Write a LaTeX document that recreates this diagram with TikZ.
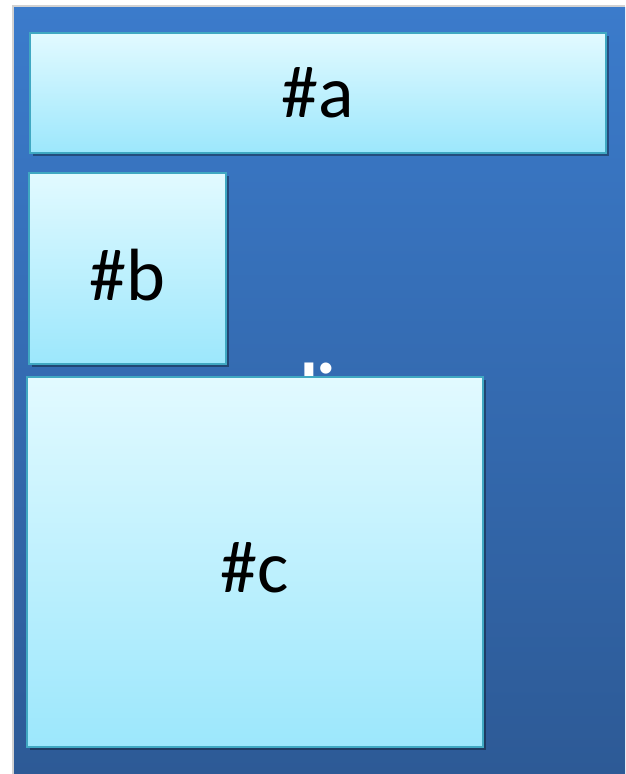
\documentclass[tikz,border=0pt]{standalone}
\usepackage{fontspec}
\setmainfont{Carlito}
\usetikzlibrary{shadows}
\definecolor{bgtop}{HTML}{3B7BCB}
\definecolor{bgbot}{HTML}{2D5A96}
\definecolor{boxtop}{HTML}{E2FAFF}
\definecolor{boxbot}{HTML}{9CE7FC}
\definecolor{boxedge}{HTML}{40A8C2}
\newcommand{\lowtext}[2]{\raisebox{-#1}[\height][\depth]{#2}}
\tikzset{
  cbox/.style={draw=boxedge, line width=1.6pt, top color=boxtop, bottom color=boxbot,
    drop shadow={shadow xshift=2.5pt, shadow yshift=-3pt, opacity=0.35, fill=black},
    anchor=north west, inner sep=0pt, outer sep=0pt,
    font=\fontsize{74}{88}\selectfont, text=black},
  hidden/.style={text=white, font=\fontsize{72}{84}\selectfont\bfseries, anchor=base west, inner sep=0pt}
}
\begin{document}
\begin{tikzpicture}[x=1pt,y=-1pt]
\useasboundingbox (0,0) rectangle (625,774);
% page shadow edges
\fill[gray!35] (12,5) rectangle (625,774);
\shade[top color=bgtop, bottom color=bgbot] (14,7) rectangle (625,774);
% hidden white text behind box c
\node[hidden] (hid) at (300,413) {li};
\node[cbox, minimum width=576pt, minimum height=120pt] (a) at (30,33) {\#a};
\node[cbox, minimum width=197pt, minimum height=191pt] (b) at (29,173) {\lowtext{7pt}{\#b}};
\node[cbox, minimum width=456pt, minimum height=370pt] (c) at (27,377) {\lowtext{6pt}{\#c}};
\end{tikzpicture}
\end{document}
